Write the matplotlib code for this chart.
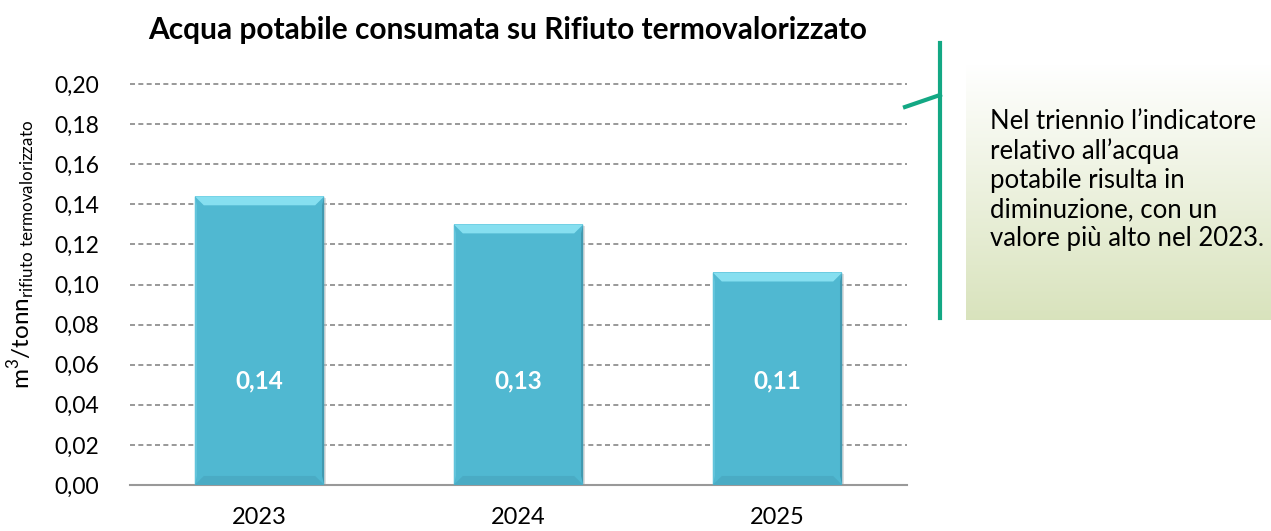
import matplotlib
matplotlib.use('Agg')
import matplotlib.pyplot as plt
from matplotlib.patches import Polygon, Rectangle
import numpy as np

plt.rcParams['font.family'] = ['Lato', 'DejaVu Sans']
plt.rcParams['mathtext.fontset'] = 'custom'
plt.rcParams['mathtext.rm'] = 'Lato'

# dati
anni = ['2023', '2024', '2025']
valori = [0.144, 0.130, 0.106]
etichette = ['0,14', '0,13', '0,11']
yticks = [0.00, 0.02, 0.04, 0.06, 0.08, 0.10, 0.12, 0.14, 0.16, 0.18, 0.20]
yticklabels = ['0,00', '0,02', '0,04', '0,06', '0,08', '0,10', '0,12', '0,14', '0,16', '0,18', '0,20']
titolo = 'Acqua potabile consumata su Rifiuto termovalorizzato'
nota = ("Nel triennio l\u2019indicatore\nrelativo all\u2019acqua\npotabile risulta in\n"
        "diminuzione, con un\nvalore pi\u00f9 alto nel 2023.")

fig = plt.figure(figsize=(12.71, 5.31), dpi=100)
ax = fig.add_axes([130/1271, 46/531, 777/1271, 401/531])

x = np.arange(len(anni))
width = 0.5
bars = ax.bar(x, valori, width=width, color='#50B8D1', edgecolor='none', zorder=3)

# effetto smussato (bevel)
for b in bars:
    x0, w, h = b.get_x(), b.get_width(), b.get_height()
    bx = w * 0.07
    by = 0.0045
    # ombra
    ax.add_patch(Rectangle((x0 + 0.005, -0.0008), w, h, color='#c8c8c8', alpha=0.6, zorder=2, lw=0))
    # top
    ax.add_patch(Polygon([(x0, h), (x0 + w, h), (x0 + w - bx, h - by), (x0 + bx, h - by)],
                         closed=True, color='#86DFF0', lw=0, zorder=4))
    # bottom
    ax.add_patch(Polygon([(x0, 0), (x0 + w, 0), (x0 + w - bx, by), (x0 + bx, by)],
                         closed=True, color='#4AABC4', lw=0, zorder=4))
    # right
    ax.add_patch(Polygon([(x0 + w, 0), (x0 + w, h), (x0 + w - bx * 0.25, h - by), (x0 + w - bx * 0.25, by)],
                         closed=True, color='#4199B0', lw=0, zorder=4))
    # left
    ax.add_patch(Polygon([(x0, 0), (x0, h), (x0 + bx * 0.25, h - by), (x0 + bx * 0.25, by)],
                         closed=True, color='#62C4DB', lw=0, zorder=4))

for i, lab in enumerate(etichette):
    ax.text(x[i], 0.052, lab, ha='center', va='center', color='white',
            fontsize=17.5, fontweight='bold', zorder=5)

ax.set_xlim(-0.5, 2.5)
ax.set_ylim(0, 0.20)
ax.set_xticks(x)
ax.set_xticklabels(anni, fontsize=17)
ax.set_yticks(yticks)
ax.set_yticklabels(yticklabels, fontsize=16.5)
ax.tick_params(length=0, pad=22)
ax.tick_params(axis='x', pad=16)
for t in yticks[1:]:
    ax.axhline(t, color='#888888', lw=1.2, ls=(0, (3, 2)), zorder=1, clip_on=False)
for s in ['top', 'right', 'left']:
    ax.spines[s].set_visible(False)
ax.spines['bottom'].set_color('#999999')
ax.spines['bottom'].set_linewidth(1.5)

ax.set_ylabel(r'm$^3$/tonn$_{\mathrm{rifiuto\ termovalorizzato}}$', fontsize=17.5)
ax.yaxis.set_label_coords(-0.118, 0.575)
fig.text(508/1271, 1 - 30/531, titolo, ha='center', va='center', fontsize=21.5, fontweight='bold')

# riquadro di commento con sfondo sfumato
grad = np.linspace(0, 1, 256).reshape(-1, 1)
top_c = np.array([1.0, 1.0, 1.0])
bot_c = np.array([0.85, 0.89, 0.74])
img = top_c * (1 - grad[..., None]) + bot_c * grad[..., None]
bax = fig.add_axes([966/1271, 1 - 320/531, 305/1271, 255/531])
bax.imshow(img, aspect='auto', extent=[0, 1, 0, 1])
bax.axis('off')
fig.text(990/1271, 1 - 180/531, nota, ha='left', va='center', fontsize=18.5, linespacing=1.2)

# linea callout
fig.add_artist(plt.Line2D([940/1271, 940/1271], [1 - 43/531, 1 - 318/531], color='#13A884', lw=3))
fig.add_artist(plt.Line2D([905/1271, 940/1271], [1 - 107/531, 1 - 95/531], color='#13A884', lw=3))

fig.savefig('out.png', dpi=100)
